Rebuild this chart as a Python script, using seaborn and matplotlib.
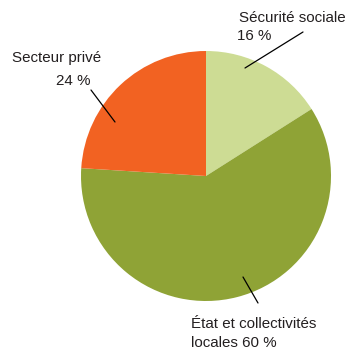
import matplotlib
matplotlib.use("Agg")
import matplotlib.pyplot as plt
import seaborn as sns

# Data
names = ["Sécurité sociale", "État et collectivités locales", "Secteur privé"]
shares = [16, 60, 24]
colors = ["#cddc94", "#8fa336", "#f26222"]

sns.set_theme(style="white")
plt.rcParams["font.family"] = ["Liberation Sans", "DejaVu Sans"]

W, H = 349, 353
fig = plt.figure(figsize=(W / 100, H / 100), dpi=100)
ax = fig.add_axes([0, 0, 1, 1])

# pie centre / radius in pixel units (y axis is flipped, so counterclock=True
# actually draws clockwise on screen)
cx, cy, r = 206, 176, 125
ax.pie(shares, colors=sns.color_palette(colors), startangle=-90, counterclock=True,
       center=(cx, cy), radius=r, frame=True,
       wedgeprops=dict(linewidth=0))
ax.set_xlim(0, W)
ax.set_ylim(H, 0)
ax.set_aspect("equal")
ax.axis("off")

fs = 10.9
tc = "#231f20"
# Sécurité sociale
ax.text(239, 22, "Sécurité sociale", fontsize=fs, color=tc, va="baseline", ha="left")
ax.text(237, 40, f"{shares[0]} %", fontsize=fs, color=tc, va="baseline", ha="left")
ax.plot([303, 245], [32, 68], color="black", lw=0.9)
# Secteur privé
ax.text(12, 62, "Secteur privé", fontsize=fs, color=tc, va="baseline", ha="left")
ax.text(91, 85, f"{shares[2]} %", fontsize=fs, color=tc, va="baseline", ha="right")
ax.plot([91, 115], [90, 122], color="black", lw=0.9)
# État
ax.text(191, 328, "État et collectivités", fontsize=fs, color=tc, va="baseline", ha="left")
ax.text(191, 347, f"locales {shares[1]} %", fontsize=fs, color=tc, va="baseline", ha="left")
ax.plot([243, 258], [277, 303], color="black", lw=0.9)

fig.savefig("out.png", dpi=100, facecolor="white")
